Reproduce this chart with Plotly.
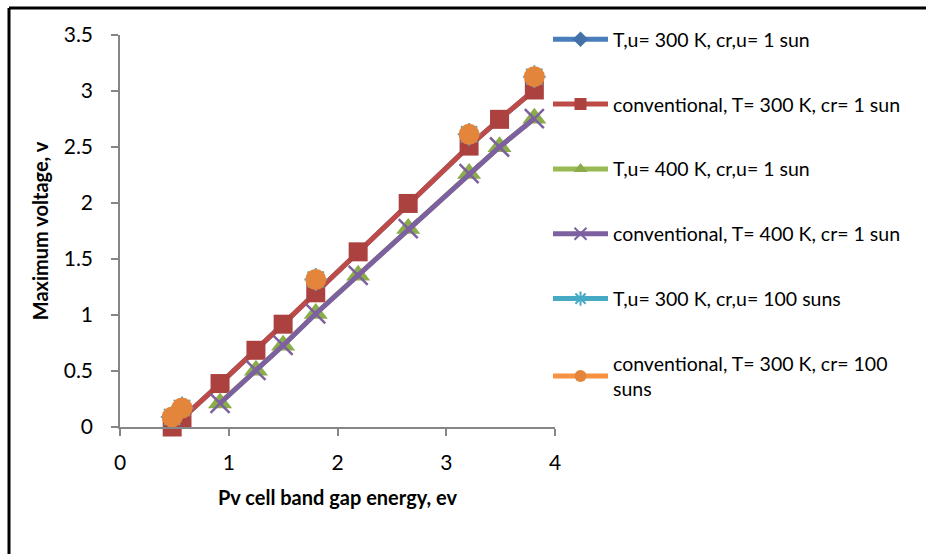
import plotly.graph_objects as go

# ---- data ----
band_gap = [0.48, 0.57, 0.92, 1.25, 1.5, 1.8, 2.19, 2.65, 3.21, 3.49, 3.81]

vmax_tu300_1sun = [0.0, 0.075, 0.388, 0.685, 0.918, 1.198, 1.564, 1.996, 2.508, 2.747, 3.009]
vmax_conv300_1sun = [0.0, 0.075, 0.388, 0.685, 0.918, 1.198, 1.564, 1.996, 2.508, 2.747, 3.009]
vmax_tu400_1sun = [None, None, 0.215, 0.507, 0.73, 1.013, 1.356, 1.773, 2.264, 2.502, 2.756]
vmax_conv400_1sun = [None, None, 0.212, 0.505, 0.728, 1.011, 1.354, 1.771, 2.262, 2.5, 2.754]
vmax_tu300_100suns = [0.09, 0.17, None, None, None, 1.317, None, None, 2.613, None, 3.128]
vmax_conv300_100suns = [0.09, 0.17, None, None, None, 1.317, None, None, 2.613, None, 3.128]

series_names = [
    "T,u= 300 K, cr,u= 1 sun",
    "conventional, T= 300 K, cr= 1 sun",
    "T,u= 400 K, cr,u= 1 sun",
    "conventional, T= 400 K, cr= 1 sun",
    "T,u= 300 K, cr,u= 100 suns",
    "conventional, T= 300 K, cr= 100<br>suns",
]

x_tickvals = [0, 1, 2, 3, 4]
x_ticktext = ["0", "1", "2", "3", "4"]
y_tickvals = [0, 0.5, 1, 1.5, 2, 2.5, 3, 3.5]
y_ticktext = ["0", "0.5", "1", "1.5", "2", "2.5", "3", "3.5"]

FONT = "Lato, 'Open Sans', sans-serif"

styles = [
    dict(line=dict(color="#4A7EBB", width=5), marker=dict(symbol="diamond", size=14, color="#4472A8")),
    dict(line=dict(color="#BE4B48", width=5), marker=dict(symbol="square", size=19, color="#AC423F")),
    dict(line=dict(color="#98B954", width=5), marker=dict(symbol="triangle-up", size=21, color="#8BAD49")),
    dict(line=dict(color="#7D60A0", width=5),
         marker=dict(symbol="x-thin-open", size=19, color="#7D60A0", line=dict(width=2.5, color="#7D60A0"))),
    dict(line=dict(color="#46AAC5", width=5),
         marker=dict(symbol="asterisk-open", size=19, color="#46AAC5", line=dict(width=2, color="#46AAC5"))),
    dict(line=dict(color="#F69240", width=5), marker=dict(symbol="circle", size=21, color="#E4853C")),
]

all_series = [vmax_tu300_1sun, vmax_conv300_1sun, vmax_tu400_1sun,
              vmax_conv400_1sun, vmax_tu300_100suns, vmax_conv300_100suns]

fig = go.Figure()
for i, (name, ys, st) in enumerate(zip(series_names, all_series, styles)):
    fig.add_trace(go.Scatter(
        x=band_gap, y=ys, name=name, mode="lines+markers",
        line=st["line"], marker=st["marker"], connectgaps=False,
        legendgroup=f"g{i}", cliponaxis=False,
    ))

W, H = 926, 554
L, R, T, B = 120, 371, 35, 127
pw, ph = W - L - R, H - T - B

def px(xp):
    return (xp - L) / pw

def py(yp):
    return (H - B - yp) / ph

fig.update_layout(
    width=W, height=H,
    margin=dict(l=L, r=R, t=T, b=B, pad=0),
    paper_bgcolor="white", plot_bgcolor="white",
    font=dict(family=FONT, color="black"),
    showlegend=True,
    legend=dict(
        x=px(548), y=py(20), xanchor="left", yanchor="top",
        font=dict(size=19.5, family=FONT, color="black"),
        tracegroupgap=36.5, itemwidth=55, itemsizing="constant",
        bgcolor="rgba(0,0,0,0)", maxheight=540,
    ),
    xaxis=dict(
        range=[0, 4], tickvals=x_tickvals, ticktext=x_ticktext,
        showgrid=False, zeroline=False, showline=True, linecolor="#868686", linewidth=1.5,
        ticks="outside", ticklen=7, tickcolor="#868686", tickwidth=1.5,
        tickfont=dict(size=21, family=FONT), ticklabelstandoff=9,
        title=dict(text="<b>Pv cell band gap energy, ev</b>", font=dict(size=20, family=FONT), standoff=18),
    ),
    yaxis=dict(
        range=[0, 3.5], tickvals=y_tickvals, ticktext=y_ticktext,
        showgrid=False, zeroline=False, showline=True, linecolor="#868686", linewidth=1.5,
        ticks="outside", ticklen=7, tickcolor="#868686", tickwidth=1.5,
        tickfont=dict(size=21, family=FONT), ticklabelstandoff=14,
        title=dict(text="<b>Maximum voltage, v</b>", font=dict(size=20, family=FONT), standoff=10),
    ),
    shapes=[
        dict(type="line", xref="paper", yref="paper", x0=px(9), x1=px(9), y0=py(8), y1=py(600),
             line=dict(color="black", width=3)),
        dict(type="line", xref="paper", yref="paper", x0=px(9), x1=px(1000), y0=py(8), y1=py(8),
             line=dict(color="black", width=3)),
    ],
)

fig.write_html("out.html", config={"displayModeBar": False})
